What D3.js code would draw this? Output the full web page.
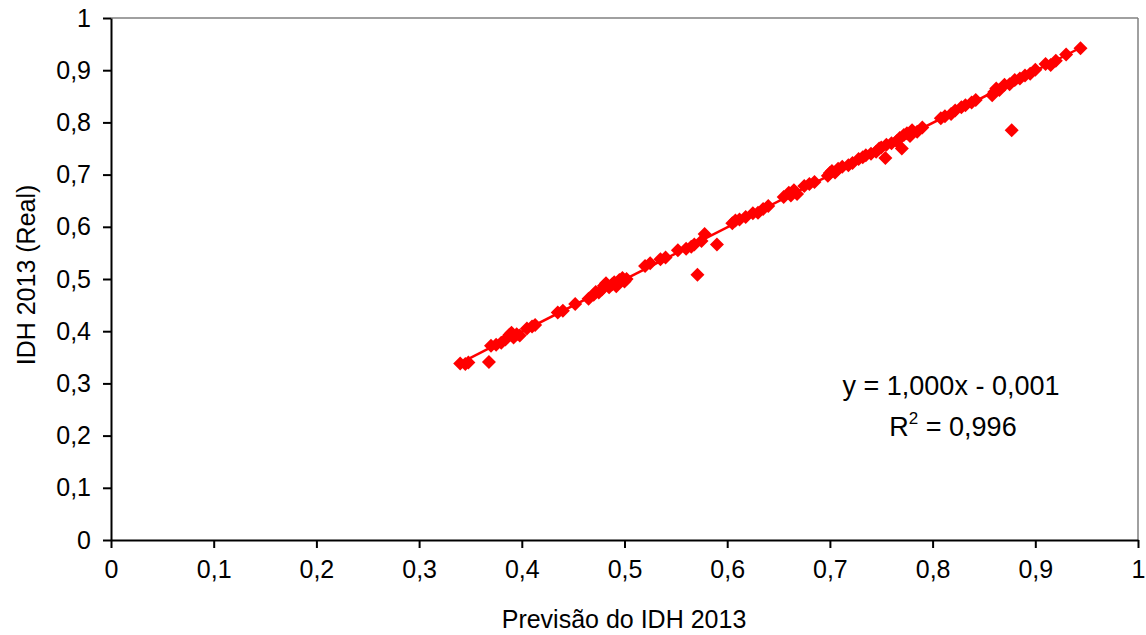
<!DOCTYPE html>
<html>
<head>
<meta charset="utf-8">
<script src="https://cdn.jsdelivr.net/npm/d3@7"></script>
<style>
  body { margin: 0; background: #fff; }
  text { font-family: "Liberation Sans", Arial, sans-serif; fill: #000; }
</style>
</head>
<body>
<svg width="1146" height="635"></svg>
<script>
// IDH previsto (x) e real (y)
var previsao = [0.340,0.345,0.348,0.368,0.370,0.375,0.380,0.384,0.388,0.390,0.392,0.395,0.398,0.405,0.410,0.413,
  0.435,0.440,0.452,0.465,0.470,0.472,0.475,0.478,0.480,0.482,0.485,0.488,0.490,0.492,0.495,0.498,0.500,0.502,
  0.520,0.525,0.535,0.540,0.552,0.560,0.565,0.568,0.571,0.575,0.578,0.590,0.605,0.608,0.612,0.618,0.625,0.630,
  0.635,0.640,0.655,0.660,0.662,0.665,0.668,0.675,0.680,0.685,0.698,0.700,0.702,0.705,0.708,0.712,0.718,0.722,
  0.728,0.732,0.735,0.740,0.745,0.748,0.750,0.754,0.755,0.760,0.765,0.768,0.770,0.772,0.775,0.778,0.780,0.785,
  0.790,0.808,0.812,0.818,0.822,0.828,0.832,0.838,0.842,0.858,0.860,0.862,0.865,0.870,0.875,0.877,0.880,0.885,
  0.890,0.895,0.900,0.910,0.915,0.920,0.930,0.944];
var real = [0.338,0.337,0.340,0.341,0.372,0.374,0.378,0.384,0.393,0.397,0.388,0.394,0.392,0.405,0.409,0.412,
  0.436,0.439,0.452,0.462,0.470,0.475,0.474,0.480,0.487,0.492,0.484,0.490,0.494,0.486,0.498,0.502,0.495,0.500,
  0.525,0.530,0.538,0.541,0.555,0.558,0.562,0.566,0.508,0.573,0.586,0.566,0.607,0.612,0.614,0.619,0.626,0.627,
  0.634,0.640,0.657,0.665,0.660,0.670,0.663,0.678,0.682,0.686,0.698,0.703,0.707,0.704,0.711,0.715,0.718,0.722,
  0.730,0.733,0.737,0.740,0.744,0.750,0.752,0.732,0.757,0.760,0.764,0.770,0.750,0.776,0.779,0.774,0.785,0.782,
  0.790,0.808,0.812,0.816,0.823,0.829,0.833,0.838,0.843,0.852,0.858,0.865,0.862,0.872,0.873,0.785,0.881,0.884,
  0.890,0.893,0.901,0.912,0.910,0.918,0.930,0.942];
var ticks = [0,0.1,0.2,0.3,0.4,0.5,0.6,0.7,0.8,0.9,1];
var slope = 1.000, intercept = -0.001;

var svg = d3.select("svg");
var x = d3.scaleLinear().domain([0, 1]).range([111, 1138]);
var y = d3.scaleLinear().domain([0, 1]).range([540, 18]);
var fmt = function (d) { return d === 0 || d === 1 ? String(d) : String(d).replace(".", ","); };

// frame top/right in gray
svg.append("line").attr("x1", x(0)).attr("x2", x(1)).attr("y1", y(1)).attr("y2", y(1)).style("stroke", "#808080").style("stroke-width", 1.5);
svg.append("line").attr("x1", x(1)).attr("x2", x(1)).attr("y1", y(0)).attr("y2", y(1)).style("stroke", "#808080").style("stroke-width", 1.5);

var xAxis = svg.append("g").attr("transform", "translate(0," + y(0) + ")")
  .call(d3.axisBottom(x).tickValues(ticks).tickFormat(fmt).tickSize(8).tickPadding(12).tickSizeOuter(0));
var yAxis = svg.append("g").attr("transform", "translate(" + x(0) + ",0)")
  .call(d3.axisLeft(y).tickValues(ticks).tickFormat(fmt).tickSize(8).tickPadding(12).tickSizeOuter(0));
[xAxis, yAxis].forEach(function (a) {
  a.selectAll("path, line").style("stroke", "#000").style("stroke-width", 2);
  a.selectAll("text").style("font-size", "25px").style("font-family", "Liberation Sans, Arial, sans-serif");
});

// trend line
var x0 = d3.min(previsao), x1 = d3.max(previsao);
svg.append("line").attr("x1", x(x0)).attr("y1", y(slope * x0 + intercept))
  .attr("x2", x(x1)).attr("y2", y(slope * x1 + intercept))
  .style("stroke", "#ff0000").style("stroke-width", 2.5);

// points
svg.append("g").selectAll("path").data(previsao).enter().append("path")
  .attr("transform", function (d, i) { return "translate(" + x(d) + "," + y(real[i]) + ")"; })
  .attr("d", "M0,-7L7,0L0,7L-7,0Z")
  .style("fill", "#ff0000");

svg.append("text").attr("x", 951).attr("y", 395).attr("text-anchor", "middle").style("font-size", "27px")
  .text("y = 1,000x - 0,001");
var r2 = svg.append("text").attr("x", 953).attr("y", 436).attr("text-anchor", "middle").style("font-size", "27px");
r2.append("tspan").text("R");
r2.append("tspan").attr("dy", -12).style("font-size", "17px").text("2");
r2.append("tspan").attr("dy", 12).text(" = 0,996");

svg.append("text").attr("x", 624).attr("y", 628).attr("text-anchor", "middle").style("font-size", "25px")
  .text("Previsão do IDH 2013");
svg.append("text").attr("transform", "translate(35,275) rotate(-90)").attr("text-anchor", "middle").style("font-size", "25px")
  .text("IDH 2013 (Real)");
</script>
</body>
</html>
